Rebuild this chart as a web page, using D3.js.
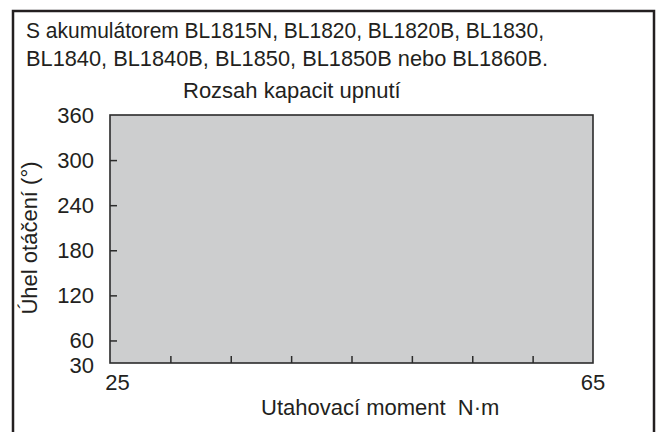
<!DOCTYPE html>
<html>
<head>
<meta charset="utf-8">
<script src="https://cdn.jsdelivr.net/npm/d3@7"></script>
<style>
  body { margin: 0; background: #fff; }
  text { font-family: "Liberation Sans", Arial, sans-serif; fill: #231f20; }
</style>
</head>
<body>
<div id="chart"></div>
<script>
// data
const titleLines = [
  "S akumulátorem BL1815N, BL1820, BL1820B, BL1830,",
  "BL1840, BL1840B, BL1850, BL1850B nebo BL1860B."
];
const areaLabel = "Rozsah kapacit upnutí";
const torqueRange = [25, 65];      // N·m
const angleRange = [30, 360];      // degrees
const xTicks = [25, 30, 35, 40, 45, 50, 55, 60, 65];
const xTickLabels = [25, 65];
const yTickLabels = [30, 60, 120, 180, 240, 300, 360];
const yTicks = [60, 120, 180, 240, 300];
const xTitle = "Utahovací moment  N·m";
const yTitle = "Úhel otáčení (°)";

const W = 658, H = 432;
const plot = { left: 110, right: 593, top: 115, bottom: 363 };

const svg = d3.select("#chart").append("svg")
  .attr("width", W)
  .attr("height", H);

// outer frame
svg.append("rect")
  .attr("x", 13).attr("y", 11)
  .attr("width", 641).attr("height", 430)
  .attr("fill", "none")
  .attr("stroke", "#231f20")
  .attr("stroke-width", 2.5);

const x = d3.scaleLinear().domain(torqueRange).range([plot.left, plot.right]);
const y = d3.scaleLinear().domain(angleRange).range([plot.bottom, plot.top]);

// shaded range
svg.append("rect")
  .attr("x", x(torqueRange[0]))
  .attr("y", y(angleRange[1]))
  .attr("width", x(torqueRange[1]) - x(torqueRange[0]))
  .attr("height", y(angleRange[0]) - y(angleRange[1]))
  .attr("fill", "#cdcecf")
  .attr("stroke", "#2b2b2b")
  .attr("stroke-width", 1.6);

// inner ticks
const xAxis = svg.append("g")
  .attr("transform", `translate(0,${plot.bottom})`)
  .call(d3.axisBottom(x).tickValues(xTicks.slice(1, -1)).tickSize(-7).tickFormat(""));
const yAxis = svg.append("g")
  .attr("transform", `translate(${plot.left},0)`)
  .call(d3.axisLeft(y).tickValues(yTicks).tickSize(-7).tickFormat(""));
[xAxis, yAxis].forEach(g => {
  g.select(".domain").remove();
  g.selectAll(".tick line").attr("stroke", "#2b2b2b").attr("stroke-width", 1.5);
});

// tick labels
svg.selectAll(".xlab")
  .data(xTickLabels)
  .enter()
  .append("text")
  .attr("class", "xlab")
  .attr("x", (d, i) => x(d) + (i === 0 ? 7.5 : 0))
  .attr("y", 390)
  .attr("text-anchor", "middle")
  .style("font-size", "22px")
  .text(d => d);

// 30 sits right under 60, nudge it down a touch like the original
svg.selectAll(".ylab")
  .data(yTickLabels)
  .enter()
  .append("text")
  .attr("class", "ylab")
  .attr("x", 94)
  .attr("y", d => y(d) + (d === 30 ? 10 : 8))
  .attr("text-anchor", "end")
  .style("font-size", "22px")
  .text(d => d);

// titles (reference face is a little narrower, so fit each line)
const titleWidths = [518, 522];
svg.selectAll(".title")
  .data(titleLines)
  .enter()
  .append("text")
  .attr("class", "title")
  .attr("x", 26)
  .attr("y", (d, i) => 38 + i * 28)
  .attr("textLength", (d, i) => titleWidths[i])
  .attr("lengthAdjust", "spacingAndGlyphs")
  .style("font-size", "22px")
  .text(d => d);

svg.append("text")
  .attr("x", 183)
  .attr("y", 98)
  .style("font-size", "22px")
  .text(areaLabel);

svg.append("text")
  .attr("x", 261)
  .attr("y", 415)
  .style("font-size", "22px")
  .style("white-space", "pre")
  .attr("xml:space", "preserve")
  .text(xTitle);

svg.append("text")
  .attr("transform", "translate(37,238) rotate(-90)")
  .attr("text-anchor", "middle")
  .style("font-size", "22px")
  .text(yTitle);
</script>
</body>
</html>
